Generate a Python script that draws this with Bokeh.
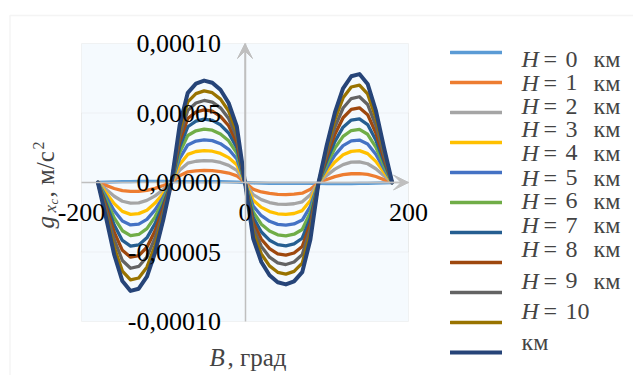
from bokeh.plotting import figure
from bokeh.models import (Range1d, FixedTicker, CustomJSTickFormatter, Label, Arrow,
                          VeeHead, Legend, LegendItem, BoxAnnotation)
from bokeh.embed import file_html
from bokeh.resources import INLINE
import math

# ---------------- data ----------------
B_deg = list(range(-180, 181, 10))
# g_xc in 1e-6 m/s^2, for H = 0..10 km
H0 = [0, 0.3, 0.5, 0.6, 0.7, 0.8, 0.8, 0.8, 0.8, 0.7, 0.7, 0.7, 0.7, 0.7, 0.7, 0.6, 0.5, 0.3, 0,
      -0.3, -0.5, -0.6, -0.7, -0.7, -0.7, -0.7, -0.7, -0.7, -0.8, -0.8, -0.8, -0.8, -0.7, -0.6, -0.5, -0.3, 0]
H1 = [0, -2.1, -4.3, -5.9, -6.4, -6.3, -5.6, -4.2, -2.2, 0, 4.9, 7.7, 8.4, 8.7, 8.5, 7.9, 6.8, 4.8, 0,
      -4.8, -6.8, -7.9, -8.5, -8.7, -8.4, -7.7, -4.9, 0, 2.2, 4.2, 5.6, 6.3, 6.4, 5.9, 4.3, 2.1, 0]
H2 = [0, -4.8, -9.9, -13.5, -14.9, -14.6, -12.9, -9.6, -5.1, 0, 8.8, 13.9, 15.3, 15.8, 15.5, 14.4, 12.3, 8.7, 0,
      -8.7, -12.3, -14.4, -15.5, -15.8, -15.3, -13.9, -8.8, 0, 5.1, 9.6, 12.9, 14.6, 14.9, 13.5, 9.9, 4.8, 0]
H3 = [0, -7.4, -15.2, -20.8, -22.9, -22.4, -19.9, -14.8, -7.9, 0, 12.9, 20.2, 22.3, 23.0, 22.5, 20.9, 17.9, 12.7, 0,
      -12.7, -17.9, -20.9, -22.5, -23.0, -22.3, -20.2, -12.9, 0, 7.9, 14.8, 19.9, 22.4, 22.9, 20.8, 15.2, 7.4, 0]
H4 = [0, -9.9, -20.3, -27.7, -30.5, -29.9, -26.5, -19.7, -10.5, 0, 17.2, 27.0, 29.8, 30.7, 30.1, 27.9, 23.9, 16.9, 0,
      -16.9, -23.9, -27.9, -30.1, -30.7, -29.8, -27.0, -17.2, 0, 10.5, 19.7, 26.5, 29.9, 30.5, 27.7, 20.3, 9.9, 0]
H5 = [0, -12.4, -25.5, -34.7, -38.2, -37.4, -33.2, -24.7, -13.1, 0, 21.5, 33.8, 37.2, 38.4, 37.6, 34.9, 30.0, 21.1, 0,
      -21.1, -30.0, -34.9, -37.6, -38.4, -37.2, -33.8, -21.5, 0, 13.1, 24.7, 33.2, 37.4, 38.2, 34.7, 25.5, 12.4, 0]
H6 = [0, -14.8, -30.6, -41.7, -45.8, -44.9, -39.8, -29.6, -15.7, 0, 25.5, 40.1, 44.2, 45.6, 44.7, 41.5, 35.6, 25.1, 0,
      -25.1, -35.6, -41.5, -44.7, -45.6, -44.2, -40.1, -25.5, 0, 15.7, 29.6, 39.8, 44.9, 45.8, 41.7, 30.6, 14.8, 0]
H7 = [0, -17.3, -35.8, -48.8, -53.7, -52.6, -46.6, -34.7, -18.4, 0, 29.3, 46.0, 50.7, 52.3, 51.3, 47.6, 40.8, 28.8, 0,
      -28.8, -40.8, -47.6, -51.3, -52.3, -50.7, -46.0, -29.3, 0, 18.4, 34.7, 46.6, 52.6, 53.7, 48.8, 35.8, 17.3, 0]
H8 = [0, -19.9, -41.1, -56.1, -61.7, -60.4, -53.6, -39.9, -21.2, 0, 33.0, 51.9, 57.2, 59.0, 57.8, 53.7, 46.0, 32.5, 0,
      -32.5, -46.0, -53.7, -57.8, -59.0, -57.2, -51.9, -33.0, 0, 21.2, 39.9, 53.6, 60.4, 61.7, 56.1, 41.1, 19.9, 0]
H9 = [0, -22.7, -46.7, -63.7, -70.1, -68.7, -60.9, -45.3, -24.1, 0, 36.9, 58.0, 63.9, 65.9, 64.6, 60.0, 51.4, 36.2, 0,
      -36.2, -51.4, -60.0, -64.6, -65.9, -63.9, -58.0, -36.9, 0, 24.1, 45.3, 60.9, 68.7, 70.1, 63.7, 46.7, 22.7, 0]
H10 = [0, -25.2, -52.0, -70.9, -78.0, -76.4, -67.8, -50.4, -26.8, 0, 41.0, 64.5, 71.1, 73.3, 71.8, 66.7, 57.2, 40.3, 0,
       -40.3, -57.2, -66.7, -71.8, -73.3, -71.1, -64.5, -41.0, 0, 26.8, 50.4, 67.8, 76.4, 78.0, 70.9, 52.0, 25.2, 0]
series = [H0, H1, H2, H3, H4, H5, H6, H7, H8, H9, H10]
H_values = ["0", "1", "2", "3", "4", "5", "6", "7", "8", "9", "10"]
x_ticks = [-200, 0, 200]
y_ticks = [-0.0001, -0.00005, 0.0, 0.00005, 0.0001]

colors = ["#5B9BD5", "#ED7D31", "#A5A5A5", "#FFC000", "#4472C4", "#70AD47",
          "#255E91", "#9E480E", "#636363", "#997300", "#264478"]

FONT = "Liberation Serif"
GRID = "#D9D9D9"
AXC = "#BFBFBF"

# ---------------- layout (pixels) ----------------
W, H = 633, 375
PL, PR, PT, PB = 81, 408, 43, 321   # plot area edges in canvas pixels
xmin, xmax = x_ticks[0], x_ticks[-1]
ymin, ymax = y_ticks[0], y_ticks[-1]
sx = (xmax - xmin) / (PR - PL)
sy = (ymax - ymin) / (PB - PT)

def px2x(px):
    return xmin + (px - PL) * sx
def px2y(py):
    return ymax - (py - PT) * sy

p = figure(width=W, height=H, output_backend="svg", toolbar_location=None,
           x_range=Range1d(px2x(0), px2x(W)), y_range=Range1d(px2y(H), px2y(0)),
           min_border_left=0, min_border_right=0, min_border_top=0, min_border_bottom=0)
p.background_fill_color = "white"
p.border_fill_color = "white"
p.outline_line_color = None
p.grid.visible = False

# chart area border (only top and left edges fall inside the canvas)
p.add_layout(BoxAnnotation(left=px2x(9.5), right=px2x(W + 50), top=px2y(15), bottom=px2y(H + 50),
                           fill_alpha=0, line_color=GRID, line_width=1.5, level="underlay"))
# plot area background + outline (grid lines at the range ends)
p.add_layout(BoxAnnotation(left=xmin, right=xmax, bottom=ymin, top=ymax,
                           fill_color="#F5FAFE", fill_alpha=1, line_color=GRID, line_width=1,
                           level="underlay"))
# inner horizontal grid lines
p.add_layout(BoxAnnotation(left=xmin, right=xmax, bottom=y_ticks[1], top=y_ticks[3],
                           fill_alpha=0, line_color=GRID, line_width=1, level="underlay"))

for ax in (p.xaxis[0], p.yaxis[0]):
    ax.fixed_location = 0
    ax.axis_line_color = AXC
    ax.axis_line_width = 1.5
    ax.major_tick_line_color = None
    ax.minor_tick_line_color = None
    ax.major_tick_out = 0
    ax.major_tick_in = 0
    ax.major_label_text_font = FONT
    ax.major_label_text_font_size = "26px"
    ax.major_label_text_color = "black"

p.xaxis.bounds = (xmin, xmax)
p.yaxis.bounds = (ymin, ymax)
p.xaxis.ticker = FixedTicker(ticks=x_ticks)
p.yaxis.ticker = FixedTicker(ticks=y_ticks)
p.xaxis.formatter = CustomJSTickFormatter(code="return tick.toFixed(0);")
p.yaxis.formatter = CustomJSTickFormatter(code="return tick.toFixed(5).replace('.', ',');")
p.yaxis.major_label_standoff = 24
p.xaxis.major_label_standoff = 21

# arrows at ends of the axes
p.add_layout(Arrow(end=VeeHead(size=15, fill_color=AXC, line_color=AXC),
                   x_start=0, y_start=0, x_end=0, y_end=ymax, line_color=AXC, line_width=1.5))
p.add_layout(Arrow(end=VeeHead(size=15, fill_color=AXC, line_color=AXC),
                   x_start=0, y_start=0, x_end=xmax, y_end=0, line_color=AXC, line_width=1.5))

# series
widths = [3.3] * 10 + [4]
renderers = []
for vals, col, lw in zip(series, colors, widths):
    r = p.line(B_deg, [v * 1e-6 for v in vals], line_color=col, line_width=lw,
               line_join="round", line_cap="round")
    renderers.append(r)

# legend swatches
legend = Legend(items=[LegendItem(label=" ", renderers=[r]) for r in renderers],
                location=(450, H - 362), glyph_width=52, glyph_height=20, label_height=20,
                label_width=1, spacing=10, padding=0, margin=0, label_standoff=0,
                border_line_color=None, background_fill_alpha=0,
                label_text_font_size="1px")
p.add_layout(legend)

# legend texts
LF = "24px"
row_base = [58.9, 82.2, 105.5, 128.9, 152.2, 177.2, 200.2, 224.9, 248.9, 280.2, 310.5]
for hv, yb in zip(H_values, row_base):
    p.add_layout(Label(x=px2x(521), y=px2y(yb), text="H", text_font=FONT,
                       text_font_style="italic", text_font_size=LF,
                       text_baseline="alphabetic", text_align="left"))
    p.add_layout(Label(x=px2x(543), y=px2y(yb), text="=", text_font=FONT,
                       text_font_size=LF, text_baseline="alphabetic", text_align="left"))
    p.add_layout(Label(x=px2x(565), y=px2y(yb), text=hv, text_font=FONT,
                       text_font_size=LF, text_baseline="alphabetic", text_align="left"))
    if hv != "10":
        p.add_layout(Label(x=px2x(593), y=px2y(yb), text="км", text_font=FONT,
                           text_font_size=LF, text_baseline="alphabetic", text_align="left"))
p.add_layout(Label(x=px2x(521), y=px2y(341), text="км", text_font=FONT,
                   text_font_size=LF, text_baseline="alphabetic", text_align="left"))

# x axis title
p.add_layout(Label(x=px2x(209), y=px2y(357), text="B", text_font=FONT, text_font_style="italic",
                   text_font_size="25px", text_baseline="alphabetic", text_align="left"))
p.add_layout(Label(x=px2x(227), y=px2y(357), text=", град", text_font=FONT,
                   text_font_size="25px", text_baseline="alphabetic", text_align="left"))

# y axis title (rotated pieces)
A = math.pi / 2
p.add_layout(Label(x=px2x(45), y=px2y(228), text="g", text_font=FONT, text_font_style="italic",
                   text_font_size="25px", angle=A, text_baseline="alphabetic", text_align="left"))
p.add_layout(Label(x=px2x(50), y=px2y(212), text="x", text_font=FONT, text_font_style="italic",
                   text_font_size="17px", angle=A, text_baseline="alphabetic", text_align="left"))
p.add_layout(Label(x=px2x(53), y=px2y(204), text="c", text_font=FONT, text_font_style="italic",
                   text_font_size="13px", angle=A, text_baseline="alphabetic", text_align="left"))
p.add_layout(Label(x=px2x(45), y=px2y(197), text=", м/с", text_font=FONT,
                   text_font_size="25px", angle=A, text_baseline="alphabetic", text_align="left"))
p.add_layout(Label(x=px2x(38), y=px2y(149), text="2", text_font=FONT,
                   text_font_size="16px", angle=A, text_baseline="alphabetic", text_align="left"))

open("out.html", "w").write(file_html(p, INLINE))
